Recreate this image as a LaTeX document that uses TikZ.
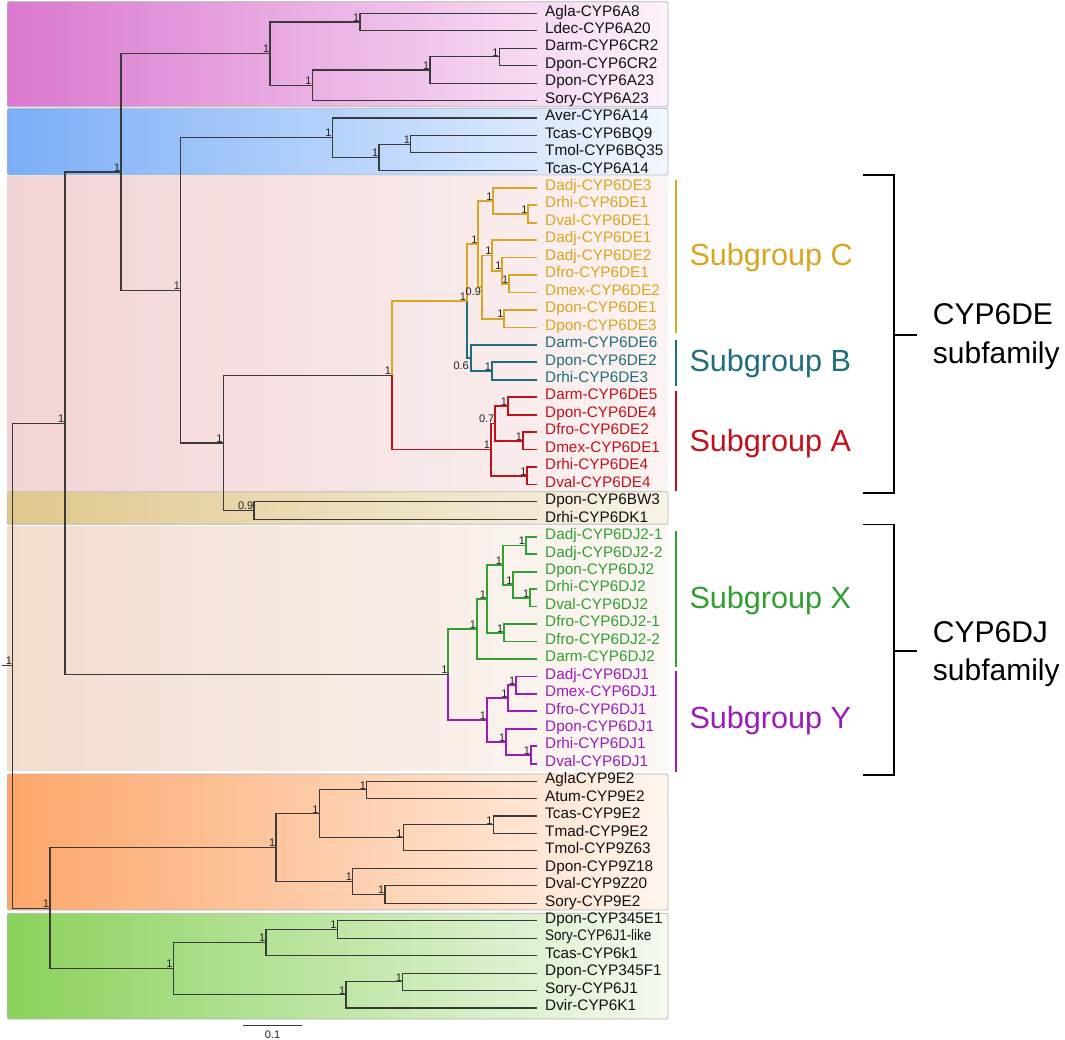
\documentclass[tikz,border=0pt]{standalone}
\usepackage{fontspec}
\setmainfont{Liberation Sans}
\usepackage{graphicx}
\definecolor{cy}{HTML}{DAA520}
\definecolor{ct}{HTML}{1F6E7C}
\definecolor{cr}{HTML}{C1121C}
\definecolor{cg}{HTML}{30A030}
\definecolor{cp}{HTML}{9B1DB8}
\definecolor{ck}{HTML}{111111}
\definecolor{treegrey}{HTML}{3A3A3A}
\definecolor{supgrey}{HTML}{222222}
\definecolor{boxgrey}{HTML}{B4B4B4}
\newcommand{\tclade}[4]{\draw[#1] (#3) -| (#2) |- (#4);}
\begin{document}
\begin{tikzpicture}[x=1pt,y=-1pt,
  tb/.style={draw=treegrey,line width=1.1pt},
  cyb/.style={draw=cy,line width=1.7pt},
  ctb/.style={draw=ct,line width=1.7pt},
  crb/.style={draw=cr,line width=1.7pt},
  cgb/.style={draw=cg,line width=1.7pt},
  cpb/.style={draw=cp,line width=1.7pt},
  leaf/.style={anchor=west,inner xsep=8pt,inner ysep=0pt,text height=11pt,text depth=5.5pt,font=\fontsize{15.3}{18}\selectfont},
  sup/.style={anchor=south east,inner sep=0.5pt,font=\fontsize{11}{12}\selectfont,text=supgrey},
  supb/.style={sup,anchor=north east},
  bgbox/.style={draw=boxgrey,line width=0.8pt,rounded corners=2pt},
  sg/.style={anchor=base west,inner sep=0pt,font=\fontsize{30.6}{36}\selectfont},
  fam/.style={anchor=base west,inner sep=0pt,font=\fontsize{30}{36}\selectfont,text=black},
  sgline/.style={line width=1.5pt}]
\useasboundingbox (0,0) rectangle (1065,1040);
\fill[white] (0,0) rectangle (1065,1040);

% background boxes
\path[bgbox,left color={rgb,255:red,218;green,120;blue,207},right color={rgb,255:red,253;green,242;blue,252}] (7.3,1.7) rectangle (668,106.7);
\path[bgbox,left color={rgb,255:red,122;green,174;blue,247},right color={rgb,255:red,242;green,247;blue,255}] (7.3,108.3) rectangle (668,175);
\path[left color={rgb,255:red,242;green,211;blue,213},right color={rgb,255:red,252;green,243;blue,243}] (7.3,176.7) rectangle (668,490);
\path[bgbox,left color={rgb,255:red,223;green,199;blue,140},right color={rgb,255:red,249;green,243;blue,230}] (7.3,491.7) rectangle (668,524.3);
\path[left color={rgb,255:red,242;green,220;blue,206},right color={rgb,255:red,252;green,248;blue,245}] (7.3,526.7) rectangle (668,770.7);
\path[bgbox,left color={rgb,255:red,253;green,166;blue,106},right color={rgb,255:red,255;green,245;blue,238}] (7.3,774) rectangle (668,910);
\path[bgbox,left color={rgb,255:red,138;green,210;blue,91},right color={rgb,255:red,244;green,250;blue,240}] (7.3,913.3) rectangle (668,1019);

% leaves
\foreach \t/\c [count=\i] in {
 Agla-CYP6A8/ck,Ldec-CYP6A20/ck,Darm-CYP6CR2/ck,Dpon-CYP6CR2/ck,Dpon-CYP6A23/ck,Sory-CYP6A23/ck,
 Aver-CYP6A14/ck,Tcas-CYP6BQ9/ck,Tmol-CYP6BQ35/ck,Tcas-CYP6A14/ck,
 Dadj-CYP6DE3/cy,Drhi-CYP6DE1/cy,Dval-CYP6DE1/cy,Dadj-CYP6DE1/cy,Dadj-CYP6DE2/cy,Dfro-CYP6DE1/cy,Dmex-CYP6DE2/cy,Dpon-CYP6DE1/cy,Dpon-CYP6DE3/cy,
 Darm-CYP6DE6/ct,Dpon-CYP6DE2/ct,Drhi-CYP6DE3/ct,
 Darm-CYP6DE5/cr,Dpon-CYP6DE4/cr,Dfro-CYP6DE2/cr,Dmex-CYP6DE1/cr,Drhi-CYP6DE4/cr,Dval-CYP6DE4/cr,
 Dpon-CYP6BW3/ck,Drhi-CYP6DK1/ck,
 Dadj-CYP6DJ2-1/cg,Dadj-CYP6DJ2-2/cg,Dpon-CYP6DJ2/cg,Drhi-CYP6DJ2/cg,Dval-CYP6DJ2/cg,Dfro-CYP6DJ2-1/cg,Dfro-CYP6DJ2-2/cg,Darm-CYP6DJ2/cg,
 Dadj-CYP6DJ1/cp,Dmex-CYP6DJ1/cp,Dfro-CYP6DJ1/cp,Dpon-CYP6DJ1/cp,Drhi-CYP6DJ1/cp,Dval-CYP6DJ1/cp,
 AglaCYP9E2/ck,Atum-CYP9E2/ck,Tcas-CYP9E2/ck,Tmad-CYP9E2/ck,Tmol-CYP9Z63/ck,Dpon-CYP9Z18/ck,Dval-CYP9Z20/ck,Sory-CYP9E2/ck,
 Dpon-CYP345E1/ck,{\scalebox{0.88}[1]{Sory-CYP6J1-like}}/ck,Tcas-CYP6k1/ck,Dpon-CYP345F1/ck,Sory-CYP6J1/ck,Dvir-CYP6K1/ck} {
  \pgfmathsetmacro\yy{13.3+(\i-1)*17.45}
  \coordinate (e\i) at (537,\yy);
  \node[leaf,text=\c] (l\i) at (e\i) {\t};
}

% internal nodes
\coordinate (nAL) at (360,22.0);
\coordinate (nCR) at (499.3,56.9);
\coordinate (n430) at (430,70.0);
\coordinate (n312) at (312.3,85.3);
\coordinate (nC) at (270,53.65);
\coordinate (nBQ) at (410.7,144.2);
\coordinate (nBb) at (379,157.3);
\coordinate (nBl) at (332.3,137.65);
\coordinate (nJ) at (528.3,213.98);
\coordinate (nH) at (493.3,200.9);
\coordinate (nN) at (509,283.78);
\coordinate (nM) at (502.3,270.69);
\coordinate (nK) at (492.3,255.42);
\coordinate (nL) at (504.3,318.68);
\coordinate (nI) at (481.7,287.05);
\coordinate (nG) at (478.3,243.98);
\coordinate (nTB) at (491.7,371.03);
\coordinate (nBt) at (471,357.94);
\coordinate (nF) at (466.7,300.96);
\coordinate (nS) at (507.7,405.93);
\coordinate (nT) at (522.7,440.83);
\coordinate (nQ) at (495,423.38);
\coordinate (nR) at (527.3,475.73);
\coordinate (nP) at (490.7,449.55);
\coordinate (nDE) at (391.7,375.26);
\coordinate (nBW) at (254,510.63);
\coordinate (nE) at (223.3,442.95);
\coordinate (nD) at (180.7,290.3);
\coordinate (nB) at (121,171.98);
\coordinate (nX5) at (525.7,545.53);
\coordinate (nX7) at (530,597.88);
\coordinate (nX6) at (513.3,584.79);
\coordinate (nX3) at (502.7,565.16);
\coordinate (nX4) at (504,632.78);
\coordinate (nX2) at (486.7,598.97);
\coordinate (nX1) at (476.7,628.96);
\coordinate (nY3) at (516,685.13);
\coordinate (nY2) at (508.3,698.2);
\coordinate (nY5) at (530.7,754.93);
\coordinate (nY4) at (506,741.84);
\coordinate (nY1) at (486.7,720.02);
\coordinate (nDJ) at (448.3,674.49);
\coordinate (nA) at (65,423.2);
\coordinate (nO3) at (366.7,789.83);
\coordinate (nO5) at (493.3,824.73);
\coordinate (nO4) at (403.3,837.8);
\coordinate (nO2) at (319.3,813.8);
\coordinate (nO7) at (385,894.53);
\coordinate (nO6) at (352.7,881.44);
\coordinate (nO1) at (276,847.62);
\coordinate (nG3) at (337.2,929.43);
\coordinate (nG2) at (266,942.5);
\coordinate (nG5) at (402.7,981.78);
\coordinate (nG4) at (346,994.86);
\coordinate (nG1) at (173.3,968.68);
\coordinate (nZ) at (50,908.15);
\coordinate (root) at (12.7,665.68);
\coordinate (stub) at (2,665.68);

% branches
\tclade{tb}{nAL}{e1}{e2}
\tclade{tb}{nCR}{e3}{e4}
\tclade{tb}{n430}{nCR}{e5}
\tclade{tb}{n312}{n430}{e6}
\tclade{tb}{nC}{nAL}{n312}
\tclade{tb}{nBQ}{e8}{e9}
\tclade{tb}{nBb}{nBQ}{e10}
\tclade{tb}{nBl}{e7}{nBb}
\tclade{cyb}{nJ}{e12}{e13}
\tclade{cyb}{nH}{e11}{nJ}
\tclade{cyb}{nN}{e16}{e17}
\tclade{cyb}{nM}{e15}{nN}
\tclade{cyb}{nK}{e14}{nM}
\tclade{cyb}{nL}{e18}{e19}
\tclade{cyb}{nI}{nK}{nL}
\tclade{cyb}{nG}{nH}{nI}
\tclade{ctb}{nTB}{e21}{e22}
\tclade{ctb}{nBt}{e20}{nTB}
\draw[cyb] (nG) -| (nF);
\draw[ctb] (nF) |- (nBt);
\tclade{crb}{nS}{e23}{e24}
\tclade{crb}{nT}{e25}{e26}
\tclade{crb}{nQ}{nS}{nT}
\tclade{crb}{nR}{e27}{e28}
\tclade{crb}{nP}{nQ}{nR}
\draw[cyb] (nF) -| (nDE);
\draw[crb] (nDE) |- (nP);
\tclade{tb}{nBW}{e29}{e30}
\tclade{tb}{nE}{nDE}{nBW}
\tclade{tb}{nD}{nBl}{nE}
\tclade{tb}{nB}{nC}{nD}
\tclade{cgb}{nX5}{e31}{e32}
\tclade{cgb}{nX7}{e34}{e35}
\tclade{cgb}{nX6}{e33}{nX7}
\tclade{cgb}{nX3}{nX5}{nX6}
\tclade{cgb}{nX4}{e36}{e37}
\tclade{cgb}{nX2}{nX3}{nX4}
\tclade{cgb}{nX1}{nX2}{e38}
\tclade{cpb}{nY3}{e39}{e40}
\tclade{cpb}{nY2}{nY3}{e41}
\tclade{cpb}{nY5}{e43}{e44}
\tclade{cpb}{nY4}{e42}{nY5}
\tclade{cpb}{nY1}{nY2}{nY4}
\draw[cgb] (nX1) -| (nDJ);
\draw[cpb] (nDJ) |- (nY1);
\tclade{tb}{nA}{nB}{nDJ}
\tclade{tb}{nO3}{e45}{e46}
\tclade{tb}{nO5}{e47}{e48}
\tclade{tb}{nO4}{nO5}{e49}
\tclade{tb}{nO2}{nO3}{nO4}
\tclade{tb}{nO7}{e51}{e52}
\tclade{tb}{nO6}{e50}{nO7}
\tclade{tb}{nO1}{nO2}{nO6}
\tclade{tb}{nG3}{e53}{e54}
\tclade{tb}{nG2}{nG3}{e55}
\tclade{tb}{nG5}{e56}{e57}
\tclade{tb}{nG4}{nG5}{e58}
\tclade{tb}{nG1}{nG2}{nG4}
\tclade{tb}{nZ}{nO1}{nG1}
\tclade{tb}{root}{nA}{nZ}
\draw[tb] (stub) -- (root);

% support values
\foreach \n in {nAL,nCR,n430,n312,nC,nBQ,nBb,nBl,nJ,nH,nN,nM,nK,nL,nG,nTB,nF,nS,nT,nR,nP,nDE,nE,nD,nB,nX5,nX7,nX6,nX3,nX4,nX2,nX1,nY3,nY2,nY5,nY4,nY1,nDJ,nA,nO3,nO5,nO4,nO2,nO7,nO6,nO1,nG3,nG2,nG5,nG4,nG1,nZ,root}
  \node[sup] (s-\n) at (\n) {1};
\node[supb] (s-nI) at (nI) {0.9};
\node[supb,xshift=-1.5pt,yshift=-3pt] (s-nBt) at (nBt) {0.6};
\node[sup] (s-nQ) at (nQ) {0.7};
\node[sup] (s-nBW) at (nBW) {0.9};

% subgroup marks
\draw[sgline,cy] (676,180) -- (676,333);
\draw[sgline,ct] (676,340) -- (676,385.7);
\draw[sgline,cr] (676,391.3) -- (676,490.9);
\draw[sgline,cg] (676,531.4) -- (676,666.9);
\draw[sgline,cp] (676,670.8) -- (676,771.6);
\node[sg,text=cy] (sgC) at (689.3,266) {Subgroup C};
\node[sg,text=ct] (sgB) at (689.3,371.6) {Subgroup B};
\node[sg,text=cr] (sgA) at (689.3,451.4) {Subgroup A};
\node[sg,text=cg] (sgX) at (689.3,608) {Subgroup X};
\node[sg,text=cp] (sgY) at (689.3,728.5) {Subgroup Y};

% brackets
\draw[line width=1.8pt,black] (862.7,174.7) -| (894,493.3) -- (862.7,493.3);
\draw[line width=1.8pt,black] (894,335) -- (916.7,335);
\draw[line width=1.8pt,black] (862.7,524.5) -| (894,774.7) -- (862.7,774.7);
\draw[line width=1.8pt,black] (894,651) -- (916.7,651);
\node[fam] (fDE1) at (932.7,325) {CYP6DE};
\node[fam] (fDE2) at (932.7,363.5) {subfamily};
\node[fam] (fDJ1) at (932.7,642) {CYP6DJ};
\node[fam] (fDJ2) at (932.7,680.5) {subfamily};

% scale bar
\draw[draw=treegrey,line width=1.1pt] (243.3,1025.7) -- (301.7,1025.7);
\node[font=\fontsize{11}{12}\selectfont,text=supgrey,inner sep=0pt] (scl) at (272.5,1034.5) {0.1};
\end{tikzpicture}
\end{document}
